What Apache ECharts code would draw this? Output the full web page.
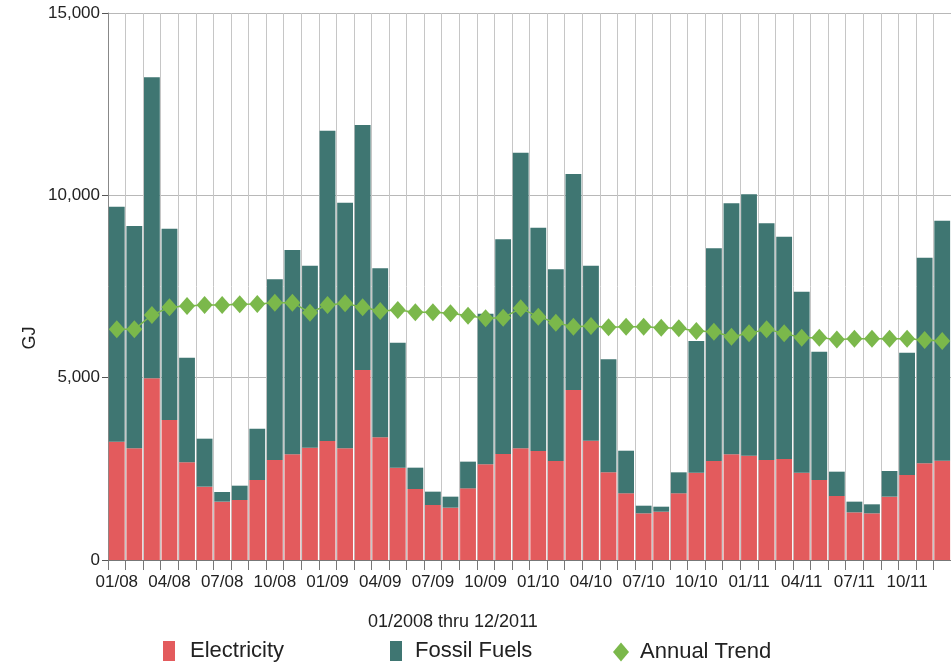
<!DOCTYPE html>
<html>
<head>
<meta charset="utf-8">
<script src="https://cdn.jsdelivr.net/npm/echarts@6/dist/echarts.min.js"></script>
<style>
html,body{margin:0;padding:0;background:#fff;}
#chart{width:951px;height:668px;}
</style>
</head>
<body>
<div id="chart"></div>
<script>
var categories = [
  '01/08','02/08','03/08','04/08','05/08','06/08','07/08','08/08','09/08','10/08','11/08','12/08',
  '01/09','02/09','03/09','04/09','05/09','06/09','07/09','08/09','09/09','10/09','11/09','12/09',
  '01/10','02/10','03/10','04/10','05/10','06/10','07/10','08/10','09/10','10/10','11/10','12/10',
  '01/11','02/11','03/11','04/11','05/11','06/11','07/11','08/11','09/11','10/11','11/11','12/11'
];
var electricity = [
  3245,3062,4981,3839,2678,2011,1600,1645,2194,2742,2898,3080,
  3263,3062,5210,3363,2532,1947,1508,1435,1965,2623,2907,3062,
  2989,2715,4661,3272,2404,1829,1280,1325,1829,2395,2715,2898,
  2861,2742,2769,2395,2194,1755,1307,1280,1737,2331,2651,2723
];
var fossilFuels = [
  6443,6096,8254,5246,2870,1316,265,393,1407,4954,5602,4991,
  8509,6736,6718,4635,3427,585,366,302,732,4127,5887,8107,
  6124,5255,5923,4799,3098,1168,209,137,575,3610,5831,6882,
  7166,6490,6097,4962,3518,667,293,247,703,3354,5639,6582
];
var annualTrend = [
  6325,6325,6718,6928,6965,6992,6992,7011,7020,7056,7056,6782,
  6992,7038,6928,6828,6855,6791,6791,6765,6700,6627,6645,6901,
  6673,6508,6398,6416,6380,6398,6398,6370,6352,6279,6261,6124,
  6215,6325,6215,6096,6096,6050,6069,6069,6069,6069,6032,6005
];
var yTicks = [0, 5000, 10000, 15000];

var RED = '#e35b5d', TEAL = '#3f7672', GREEN = '#7bb84b';
var FONT = 'Liberation Sans, Arial, sans-serif';

var chart = echarts.init(document.getElementById('chart'), null, {renderer:'canvas'});
chart.setOption({
  animation: false,
  backgroundColor: '#fff',
  title: {
    text: '01/2008 thru 12/2011',
    left: 368, top: 613, padding: 0,
    textStyle: {fontFamily: FONT, fontSize: 18, fontWeight: 'normal', color: '#222'}
  },
  graphic: [{
    type: 'text', x: 30, y: 338, rotation: Math.PI/2,
    style: {text: 'GJ', font: '18px Liberation Sans, Arial, sans-serif', fill: '#222',
            align: 'center', verticalAlign: 'middle'}
  }],
  legend: [
    {data: [{name: 'Electricity', icon: 'rect'}], left: 163, top: 640, padding: 0, itemWidth: 12, itemHeight: 20,
     textStyle: {fontFamily: FONT, fontSize: 22, color: '#222', padding: [0,0,0,10]}},
    {data: [{name: 'Fossil Fuels', icon: 'rect'}], left: 390, top: 640, padding: 0, itemWidth: 12, itemHeight: 20,
     textStyle: {fontFamily: FONT, fontSize: 22, color: '#222', padding: [0,0,0,8]}},
    {data: [{name: 'Annual Trend', icon: 'diamond'}], left: 613, top: 641, padding: 0, itemWidth: 16, itemHeight: 19,
     textStyle: {fontFamily: FONT, fontSize: 22, color: '#222', padding: [0,0,0,6]}}
  ],
  grid: {left: 108, right: -1, top: 13, bottom: 108, containLabel: false},
  xAxis: {
    type: 'category',
    data: categories,
    boundaryGap: true,
    axisLine: {show: true, lineStyle: {color: '#777', width: 1}},
    axisTick: {show: true, interval: 0, length: 10, lineStyle: {color: '#777'}},
    axisLabel: {interval: 2, margin: 14, fontFamily: FONT, fontSize: 17, color: '#222'},
    splitLine: {show: true, interval: 0, lineStyle: {color: '#c6c6c6', width: 1}}
  },
  yAxis: {
    type: 'value',
    min: yTicks[0], max: yTicks[yTicks.length-1], interval: 5000,
    axisLine: {show: true, lineStyle: {color: '#888'}},
    axisTick: {show: true, length: 6, lineStyle: {color: '#555'}},
    axisLabel: {margin: 8, fontFamily: FONT, fontSize: 17, color: '#222',
                formatter: function(v){ return v.toLocaleString('en-US'); }},
    splitLine: {show: true, lineStyle: {color: '#b8b8b8', width: 1}}
  },
  series: [
    {name: 'Electricity', type: 'bar', stack: 'gj', data: electricity,
     barCategoryGap: '10%', itemStyle: {color: RED}},
    {name: 'Fossil Fuels', type: 'bar', stack: 'gj', data: fossilFuels,
     barCategoryGap: '10%', itemStyle: {color: TEAL}},
    {name: 'Annual Trend', type: 'line', data: annualTrend, symbol: 'diamond', symbolSize: [16, 18],
     showSymbol: true, showAllSymbol: true, itemStyle: {color: GREEN},
     lineStyle: {color: GREEN, width: 1.5}, z: 5}
  ]
});
</script>
</body>
</html>
